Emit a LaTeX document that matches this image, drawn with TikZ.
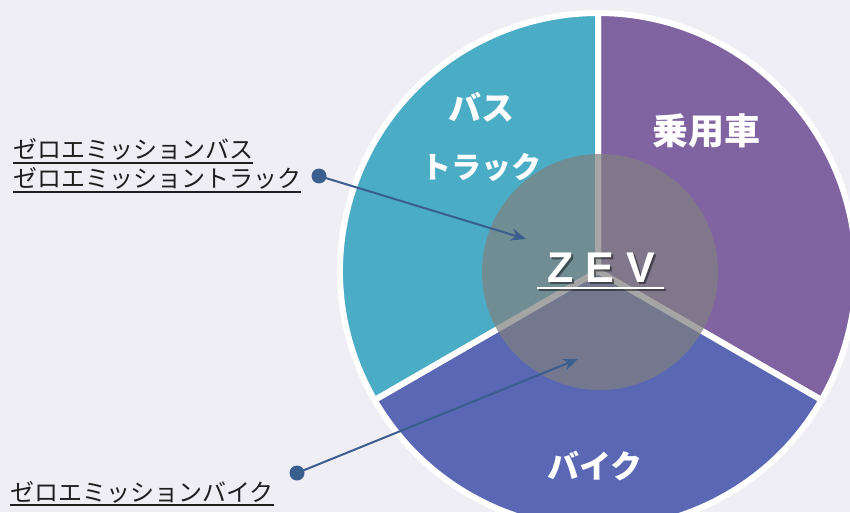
\documentclass[tikz,border=0pt]{standalone}
\usepackage{fontspec}
\setmainfont{Liberation Sans}
\newfontfamily\jp{Noto Sans CJK JP}
\usetikzlibrary{arrows.meta}
\definecolor{bg}{HTML}{F0EEF5}
\definecolor{carP}{HTML}{8064A2}
\definecolor{busC}{HTML}{4BACC6}
\definecolor{bikeB}{HTML}{5A67B4}
\definecolor{arrowB}{HTML}{3A5E8E}
\definecolor{labT}{HTML}{1E1E1E}
\tikzset{
  sector/.style={draw=white, line width=6pt, line join=round},
  bigtxt/.style={text=white, font=\jp\bfseries\fontsize{30}{30}\selectfont, inner sep=0pt},
  labtxt/.style={text=labT, font=\jp\fontsize{24}{24}\selectfont, inner sep=0pt, anchor=base west},
  uline/.style={labT, line width=1.3pt},
  dot/.style={circle, fill=arrowB, minimum size=15pt, inner sep=0pt},
  pointer/.style={arrowB, line width=2pt, -{Stealth[length=15pt,width=12pt]}},
}
\begin{document}
\begin{tikzpicture}[x=1pt,y=1pt]
\useasboundingbox (0,0) rectangle (850,512);
\fill[bg] (0,0) rectangle (850,512);
\begin{scope}
\clip (0,0) rectangle (850,512);
\coordinate (C) at (598,241);
\filldraw[sector, fill=carP] (C) -- ++(90:258pt) arc[start angle=90, end angle=-30, radius=258pt] -- cycle;
\filldraw[sector, fill=bikeB] (C) -- ++(-30:258pt) arc[start angle=-30, end angle=-150, radius=258pt] -- cycle;
\filldraw[sector, fill=busC] (C) -- ++(210:258pt) arc[start angle=210, end angle=90, radius=258pt] -- cycle;
\fill[black!50, opacity=0.7] (600,240) circle[radius=118pt];
\end{scope}

\node[bigtxt, font=\jp\bfseries\fontsize{36}{36}\selectfont] (car) at (706,381) {乗用車};
\node[bigtxt, font=\jp\bfseries\fontsize{33}{33}\selectfont] (bus) at (481,405) {バス};
\node[bigtxt, font=\jp\bfseries\fontsize{30}{30}\selectfont] (truck) at (481,345) {トラック};
\node[bigtxt, font=\jp\bfseries\fontsize{32}{32}\selectfont] (bike) at (595,46) {バイク};

\node[text=black, opacity=0.45, font=\bfseries\fontsize{43}{43}\selectfont, inner sep=0pt] (zevs) at (603,242) {Z E V};
\node[text=white, font=\bfseries\fontsize{43}{43}\selectfont, inner sep=0pt] (zev) at (601,244) {Z E V};
\draw[black, opacity=0.45, line width=2pt] (539,222) -- (666,222);
\draw[white, line width=2pt] (537,224) -- (664,224);

\node[labtxt] (lab1) at (13,353) {ゼロエミッションバス};
\node[labtxt] (lab2) at (13,324) {ゼロエミッショントラック};
\node[labtxt] (lab3) at (10,11) {ゼロエミッションバイク};
\draw[uline] ([yshift=-4pt]lab1.base west) -- ([yshift=-4pt]lab1.base east);
\draw[uline] ([yshift=-4pt]lab2.base west) -- ([yshift=-4pt]lab2.base east);
\draw[uline] ([yshift=-4pt]lab3.base west) -- ([yshift=-4pt]lab3.base east);

\node[dot] (d1) at (319,336) {};
\node[dot] (d2) at (297,39) {};
\coordinate (e1) at (526,273);
\coordinate (e2) at (578,153);
\draw[pointer] (d1.center) -- (e1);
\draw[pointer] (d2.center) -- (e2);
\end{tikzpicture}
\end{document}
